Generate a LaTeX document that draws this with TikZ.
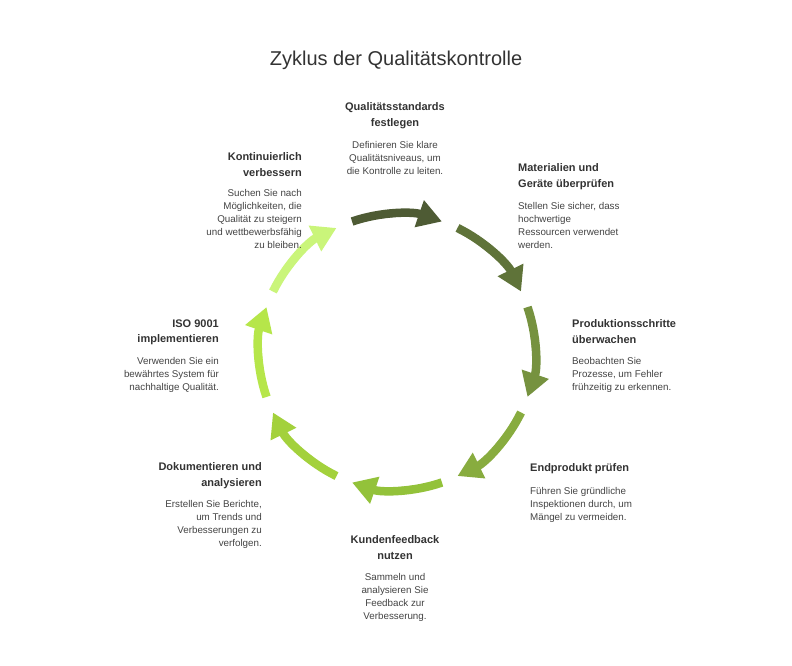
\documentclass[tikz,border=0pt]{standalone}
\usepackage{fontspec}
\setmainfont{Liberation Sans}
\usetikzlibrary{arrows.meta,calc}
\definecolor{txthead}{HTML}{333333}
\definecolor{txtbody}{HTML}{444444}
\definecolor{ca}{HTML}{4E5B34}
\definecolor{cb}{HTML}{5F7339}
\definecolor{cc}{HTML}{76923F}
\definecolor{cd}{HTML}{88AC3F}
\definecolor{ce}{HTML}{93C23A}
\definecolor{cf}{HTML}{A3D13C}
\definecolor{cg}{HTML}{B6E64A}
\definecolor{ch}{HTML}{CAF57A}
\begin{document}
\begin{tikzpicture}[x=1pt,y=1pt,
  headtxt/.style={font=\bfseries\fontsize{11}{15.5}\selectfont, text=txthead, inner sep=0pt},
  bodytxt/.style={font=\fontsize{9.8}{13}\selectfont, text=txtbody, inner sep=0pt},
  cyclearrow/.style={line width=8.5pt, -{Triangle[length=24pt,width=27pt]}}]
\useasboundingbox (0,0) rectangle (792,-666);
\fill[white] (0,0) rectangle (792,-666);
\coordinate (c) at (397,-352);
\node[font=\fontsize{20}{24}\selectfont, text=txthead, inner sep=0pt] (title) at (396,-60) {Zyklus der Qualitätskontrolle};
% arrows
\foreach \ang/\col in {90/ca,45/cb,0/cc,-45/cd,-90/ce,-135/cf,180/cg,135/ch}{
  \draw[cyclearrow, draw=\col, fill=\col] ($(c)+(\ang+19:138pt)$) arc[start angle=\ang+19, end angle=\ang-19, radius=138pt];
}
% texts
\node[headtxt, anchor=north, align=center] (h1) at (395,-102.5) {Qualitätsstandards\\festlegen};
\node[bodytxt, anchor=north, align=center] (b1) at (395,-141.5) {Definieren Sie klare\\Qualitätsniveaus, um\\die Kontrolle zu leiten.};
\node[headtxt, anchor=north west, align=left] (h2) at (518,-163.5) {Materialien und\\Geräte überprüfen};
\node[bodytxt, anchor=north west, align=left] (b2) at (518,-202) {Stellen Sie sicher, dass\\hochwertige\\Ressourcen verwendet\\werden.};
\node[headtxt, anchor=north west, align=left] (h3) at (572,-319.5) {Produktionsschritte\\überwachen};
\node[bodytxt, anchor=north west, align=left] (b3) at (572,-357.5) {Beobachten Sie\\Prozesse, um Fehler\\frühzeitig zu erkennen.};
\node[headtxt, anchor=north west, align=left] (h4) at (530,-463.5) {Endprodukt prüfen};
\node[bodytxt, anchor=north west, align=left] (b4) at (530,-487.5) {Führen Sie gründliche\\Inspektionen durch, um\\Mängel zu vermeiden.};
\node[headtxt, anchor=north, align=center] (h5) at (395,-535.5) {Kundenfeedback\\nutzen};
\node[bodytxt, anchor=north, align=center] (b5) at (395,-573.5) {Sammeln und\\analysieren Sie\\Feedback zur\\Verbesserung.};
\node[headtxt, anchor=north east, align=right] (h6) at (262,-462.5) {Dokumentieren und\\analysieren};
\node[bodytxt, anchor=north east, align=right] (b6) at (262,-500.5) {Erstellen Sie Berichte,\\um Trends und\\Verbesserungen zu\\verfolgen.};
\node[headtxt, anchor=north east, align=right] (h7) at (219,-319.5) {ISO 9001\\implementieren};
\node[bodytxt, anchor=north east, align=right] (b7) at (219,-357.5) {Verwenden Sie ein\\bewährtes System für\\nachhaltige Qualität.};
\node[headtxt, anchor=north east, align=right] (h8) at (302,-152.5) {Kontinuierlich\\verbessern};
\node[bodytxt, anchor=north east, align=right] (b8) at (302,-189.5) {Suchen Sie nach\\Möglichkeiten, die\\Qualität zu steigern\\und wettbewerbsfähig\\zu bleiben.};
\end{tikzpicture}
\end{document}
